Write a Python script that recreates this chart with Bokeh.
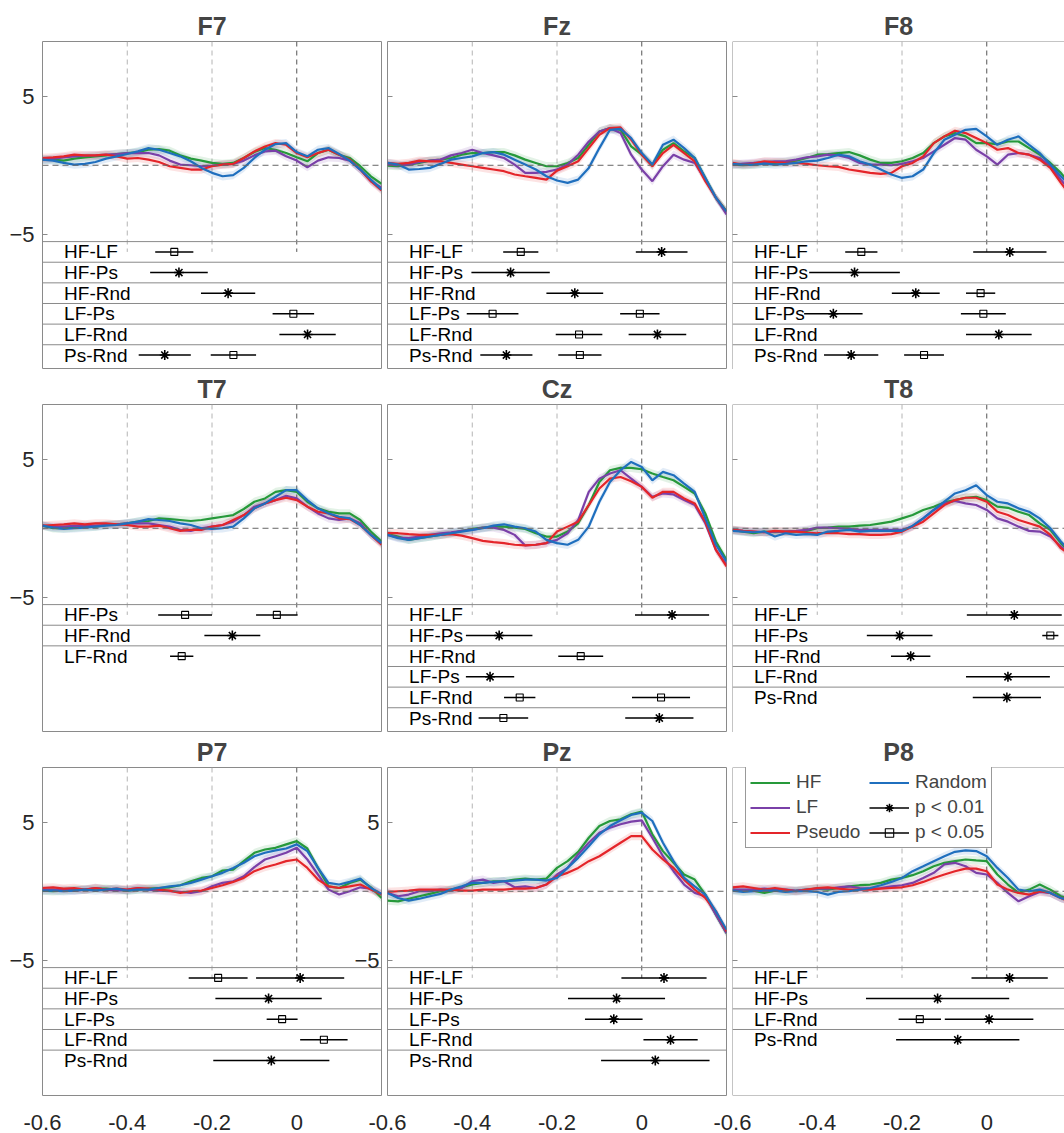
import numpy as np
from bokeh.plotting import figure
from bokeh.models import Range1d, FixedTicker, Span, Legend, LegendItem, ColumnDataSource
from bokeh.layouts import row, column
from bokeh.embed import file_html
from bokeh.resources import INLINE
from bokeh.core.properties import value

FONT = "Liberation Sans"

TIME = [-0.6, -0.575, -0.55, -0.525, -0.5, -0.475, -0.45, -0.425, -0.4, -0.375, -0.35,
        -0.325, -0.3, -0.275, -0.25, -0.225, -0.2, -0.175, -0.15, -0.125, -0.1, -0.075,
        -0.05, -0.025, 0.0, 0.025, 0.05, 0.075, 0.1, 0.125, 0.15, 0.175, 0.2]

# ---------------- waveforms (microvolts) ----------------
F7_HF = [0.41,0.41,0.34,0.48,0.58,0.65,0.72,0.82,0.89,0.96,1.13,1.18,1.06,0.72,0.48,0.34,0.17,0.1,0.17,0.53,0.96,1.25,1.13,0.89,0.58,0.29,0.89,1.13,0.77,0.53,-0.07,-0.8,-1.35]
F7_LF = [0.41,0.48,0.58,0.65,0.7,0.72,0.77,0.82,0.89,0.89,0.89,0.72,0.34,0.05,0,-0.07,-0.02,0.05,0.1,0.34,0.72,1.01,1.06,0.65,0.34,-0.14,0.34,0.58,0.53,0.34,-0.31,-1.16,-1.64]
F7_PS = [0.53,0.58,0.65,0.77,0.72,0.72,0.77,0.65,0.48,0.53,0.41,0.24,-0.07,-0.19,-0.31,-0.31,-0.07,0.05,0.1,0.53,1.01,1.37,1.61,1.49,0.89,0.58,0.89,1.13,0.77,0.41,-0.31,-1.16,-1.83]
F7_RND = [0.41,0.34,0.17,0.05,0.1,0.24,0.48,0.65,0.82,1.01,1.25,1.13,0.89,0.65,0.29,-0.19,-0.55,-0.8,-0.72,-0.19,0.53,1.13,1.54,1.61,0.96,0.65,1.13,1.25,0.82,0.34,-0.31,-1.04,-1.76]

FZ_HF = [-0.02,-0.07,0.05,0.17,0.34,0.41,0.53,0.77,0.89,0.89,0.96,0.96,0.72,0.41,0.17,-0.07,-0.07,0.17,0.53,1.49,2.46,2.7,2.58,1.37,0.77,0.05,1.13,1.61,1.01,0.53,-0.92,-2.36,-3.33]
FZ_LF = [0.05,0,0.05,0.24,0.34,0.41,0.72,0.89,1.13,0.89,0.72,0.53,0.05,-0.55,-0.55,-0.48,-0.31,0.05,0.77,1.73,2.46,2.7,2.34,0.77,-0.31,-1.16,-0.07,0.77,0.41,0.17,-1.04,-2.36,-3.57]
FZ_PS = [0.17,0.1,0.17,0.34,0.29,0.29,0.17,0.05,-0.07,-0.19,-0.31,-0.43,-0.67,-0.8,-0.92,-1.04,-0.39,-0.07,0.29,1.25,2.22,2.7,2.75,1.86,0.77,-0.07,0.89,1.49,0.89,0.29,-1.16,-2.36,-3.37]
FZ_RND = [0.17,0.05,-0.31,-0.27,-0.19,0.1,0.41,0.53,0.65,0.89,0.96,0.77,0.41,0.05,-0.31,-0.8,-1.11,-1.28,-1.04,-0.19,1.25,2.58,2.65,1.98,0.89,0.05,1.49,1.86,1.25,0.53,-0.92,-2.36,-3.37]

F8_HF = [0.05,0,0.05,0.12,0.17,0.24,0.34,0.53,0.77,0.82,0.89,0.96,0.72,0.41,0.17,0.17,0.29,0.53,0.89,1.61,2.1,2.34,2.1,1.61,1.61,1.54,1.73,1.73,1.25,0.77,0.17,-0.55,-1.5]
F8_LF = [0.05,0.12,0.17,0.24,0.29,0.29,0.41,0.58,0.65,0.77,0.72,0.53,0.17,0.05,0.05,0,0.1,0.29,0.53,1.01,1.49,1.98,1.86,1.13,0.65,0.05,0.77,0.89,0.77,0.53,-0.07,-1.04,-2.0]
F8_PS = [0.17,0.05,0.12,0.29,0.22,0.17,0.17,0.1,0,-0.07,-0.12,-0.31,-0.43,-0.55,-0.63,-0.55,-0.07,0.17,0.65,1.61,2.1,2.51,2.34,1.98,1.61,1.13,1.25,0.89,0.77,0.41,-0.19,-1.28,-2.3]
F8_RND = [0.1,0.05,0.05,0.12,0.05,0.1,0.17,0.29,0.34,0.53,0.77,0.65,0.29,0.05,-0.31,-0.67,-0.92,-0.8,-0.31,0.89,1.86,2.22,2.58,2.65,2.1,1.49,1.86,2.1,1.49,0.89,0.05,-0.8,-1.6]

T7_HF = [0.19,0,0,0.05,0.12,0.12,0.24,0.29,0.36,0.48,0.53,0.72,0.67,0.6,0.53,0.6,0.72,0.84,0.96,1.4,1.93,2.17,2.65,2.77,2.65,1.93,1.45,1.2,1.08,1.08,0.6,-0.24,-0.96]
T7_LF = [0.19,0.12,0.12,0.17,0.19,0.19,0.24,0.29,0.36,0.36,0.36,0.24,0.12,-0.12,-0.19,0,0.12,0.24,0.48,0.96,1.57,1.81,2.05,2.36,2.17,1.57,1.08,0.72,0.6,0.72,0.36,-0.48,-1.08]
T7_PS = [0.19,0.24,0.29,0.36,0.29,0.36,0.36,0.29,0.24,0.12,0.12,0.19,0,-0.19,-0.12,-0.12,0.12,0.24,0.6,0.96,1.45,1.81,2.05,2.22,2.05,1.57,1.2,1.08,0.72,0.67,0.24,-0.48,-1.2]
T7_RND = [0.19,0.05,-0.05,0,0.05,0.12,0.19,0.24,0.36,0.48,0.67,0.6,0.53,0.36,0.24,0,-0.05,0,0.12,0.72,1.45,1.81,2.29,2.77,2.77,2.05,1.45,1.08,0.84,0.72,0.24,-0.48,-1.08]

CZ_HF = [-0.43,-0.6,-0.84,-0.72,-0.6,-0.48,-0.36,-0.19,-0.05,0.05,0.12,0.12,0.05,-0.05,-0.36,-0.6,-0.6,-0.24,0.36,1.69,3.37,4.22,4.39,4.39,4.29,3.98,3.73,3.49,3.01,2.53,1.08,-0.96,-2.29]
CZ_LF = [-0.48,-0.67,-0.72,-0.6,-0.48,-0.36,-0.29,-0.19,-0.12,0.05,0.05,-0.12,-0.48,-1.25,-1.2,-1.08,-0.84,-0.36,0.6,2.65,3.61,3.98,4.22,3.61,3.01,2.29,2.53,2.46,2.05,1.69,0.36,-1.57,-2.65]
CZ_PS = [-0.36,-0.36,-0.43,-0.48,-0.48,-0.48,-0.43,-0.53,-0.72,-0.92,-1.01,-1.08,-1.2,-1.25,-1.2,-1.08,-0.24,0.12,0.48,1.69,2.89,3.61,3.73,3.42,3.01,2.22,2.65,2.65,2.17,1.81,0.48,-1.57,-2.77]
CZ_RND = [-0.48,-0.72,-0.84,-0.72,-0.6,-0.48,-0.36,-0.24,-0.12,0,0.19,0.29,0.12,0,-0.24,-0.84,-1.08,-1.2,-0.84,0.12,1.93,3.37,4.22,4.82,4.46,3.49,4.1,3.86,3.25,2.65,0.72,-1.2,-2.41]

T8_HF = [-0.12,-0.24,-0.36,-0.24,-0.29,-0.24,-0.24,-0.19,0,0.05,0.12,0.12,0.19,0.24,0.36,0.48,0.72,0.96,1.33,1.57,1.88,2.05,2.22,2.29,2.05,1.57,1.49,1.2,0.96,0.36,-0.12,-1.08,-1.9]
T8_LF = [-0.12,-0.19,-0.24,-0.29,-0.24,-0.24,-0.19,-0.12,0.05,0.05,0,-0.05,-0.12,-0.12,-0.12,-0.12,-0.12,0.12,0.72,1.33,1.81,1.98,1.81,1.69,1.33,0.72,0.48,0.12,-0.19,-0.24,-0.6,-1.33,-2.0]
T8_PS = [-0.12,-0.19,-0.24,-0.29,-0.19,-0.24,-0.24,-0.31,-0.36,-0.36,-0.36,-0.43,-0.43,-0.48,-0.48,-0.43,-0.24,0.12,0.48,1.08,1.69,2.05,2.22,2.22,1.93,1.2,0.96,0.6,0.36,0.12,-0.48,-1.45,-2.0]
T8_RND = [-0.19,-0.24,-0.29,-0.24,-0.6,-0.36,-0.48,-0.43,-0.48,-0.24,-0.19,-0.12,-0.24,-0.19,-0.19,-0.19,-0.19,0.19,0.72,1.33,1.93,2.53,2.77,3.13,2.41,1.93,1.81,1.45,1.2,0.72,0,-0.96,-1.8]

P7_HF = [0.05,0,0.05,0.12,0.12,0.19,0.19,0.12,0.05,0.12,0.19,0.24,0.29,0.44,0.73,0.97,1.09,1.51,1.58,2.19,2.8,3.04,3.16,3.41,3.65,3.11,1.7,0.36,0.24,0.61,0.85,0.29,-0.49]
P7_LF = [0.12,0.12,0.12,0.05,0.12,0.24,0.12,0.05,0.12,0.24,0.12,0.05,0,-0.05,-0.12,0,0.36,0.61,0.73,1.09,1.75,2.31,2.55,2.8,3.16,2.31,1.22,0.12,-0.24,0,0.29,0.19,-0.19]
P7_PS = [0.24,0.29,0.19,0.24,0.12,0.24,0.12,0.19,0.12,0.24,0.19,0.12,0.05,-0.12,0,0.05,0.24,0.44,0.68,0.97,1.46,1.75,1.95,2.19,2.31,1.7,0.85,0.36,0.24,0.36,0.49,0.12,-0.24]
P7_RND = [0.05,0.05,0,0.05,0.12,0.05,0.12,0.19,0.05,0.12,0.12,0.24,0.36,0.44,0.61,0.85,1.09,1.34,1.7,2.07,2.55,2.8,2.97,3.11,3.41,2.92,1.7,0.61,0.49,0.68,0.92,0.24,-0.19]

PZ_HF = [-0.68,-0.73,-0.54,-0.36,-0.19,0,0.12,0.29,0.49,0.61,0.73,0.73,0.85,0.92,0.85,0.92,1.7,2.19,2.87,3.89,4.74,5.11,5.23,5.6,5.79,4.14,2.92,2.07,1.22,0.85,-0.24,-1.7,-3.04]
PZ_LF = [-0.12,-0.36,-0.24,0,0,0.12,0.05,0.24,0.73,0.85,0.61,0.73,0.29,0.36,0.24,0.49,1.22,1.7,2.68,3.53,4.26,4.62,4.87,5.06,5.16,3.89,2.55,1.46,0.49,-0.12,-0.36,-1.7,-3.04]
PZ_PS = [-0.05,0,0.05,0.12,0.12,0.12,0.12,0.05,0.05,0.12,0.12,0.12,0.19,0.19,0.24,0.49,1.09,1.34,1.7,2.19,2.55,3.04,3.53,4.01,4.01,3.04,2.31,1.7,0.85,0.12,-0.49,-1.46,-2.92]
PZ_RND = [-0.12,-0.49,-0.68,-0.54,-0.36,-0.19,0.12,0.36,0.61,0.61,0.68,0.73,0.78,0.85,0.85,0.78,0.97,1.7,2.43,3.28,4.14,4.74,5.16,5.55,5.72,5.11,3.53,2.19,0.97,0.36,-0.24,-1.46,-2.8]

P8_HF = [0.12,0,0.05,-0.12,0.05,0,0.05,0.12,0.19,0.12,0.24,0.36,0.44,0.49,0.61,0.85,0.97,1.17,1.46,1.82,2.07,2.19,2.31,2.24,2.19,1.22,0.49,-0.12,0.12,0.49,0.12,-0.36,-0.6]
P8_LF = [0.12,0.12,0.12,0.19,0.12,0.12,0.05,0.12,0.19,0.19,0.29,0.36,0.24,0.19,0.24,0.36,0.44,0.61,0.97,1.34,1.95,2.07,1.82,1.34,1.22,0.61,-0.12,-0.73,-0.36,-0.05,-0.12,-0.49,-0.7]
P8_PS = [0.29,0.36,0.24,0.12,0.24,0.12,0,0.12,0.24,0.29,0.19,0.12,0.12,0.12,0.19,0.24,0.29,0.44,0.68,0.97,1.22,1.46,1.65,1.65,1.46,0.49,0.12,-0.12,-0.24,0,-0.12,-0.49,-0.8]
P8_RND = [0.05,-0.05,0,0.05,0.05,-0.05,0,0,-0.05,-0.24,-0.05,0,0.12,0.24,0.44,0.68,0.97,1.46,1.82,2.19,2.55,2.87,2.97,2.92,2.55,1.7,0.97,0.12,0,0.12,-0.12,-0.49,-0.7]

# ---------------- significance rows: (row, start, end, kind) a = p<0.01, s = p<0.05 ----------------
ROWS6 = ["HF-LF", "HF-Ps", "HF-Rnd", "LF-Ps", "LF-Rnd", "Ps-Rnd"]
F7_ROWS = ROWS6
F7_SIG = [(0, -0.334, -0.244, "s"), (1, -0.346, -0.210, "a"), (2, -0.226, -0.098, "a"),
          (3, -0.057, 0.041, "s"), (4, -0.041, 0.092, "a"), (5, -0.373, -0.250, "a"), (5, -0.203, -0.096, "s")]
FZ_ROWS = ROWS6
FZ_SIG = [(0, -0.327, -0.244, "s"), (0, -0.014, 0.108, "a"), (1, -0.402, -0.217, "a"), (2, -0.225, -0.091, "a"),
          (3, -0.413, -0.291, "s"), (3, -0.051, 0.042, "s"), (4, -0.203, -0.093, "s"), (4, -0.031, 0.105, "a"),
          (5, -0.381, -0.258, "a"), (5, -0.197, -0.095, "s")]
F8_ROWS = ROWS6
F8_SIG = [(0, -0.334, -0.258, "s"), (0, -0.032, 0.141, "a"), (1, -0.419, -0.205, "a"), (2, -0.224, -0.111, "a"),
          (2, -0.049, 0.020, "s"), (3, -0.431, -0.293, "a"), (3, -0.061, 0.045, "s"), (4, -0.049, 0.106, "a"),
          (5, -0.384, -0.256, "a"), (5, -0.195, -0.101, "s")]
T7_ROWS = ["HF-Ps", "HF-Rnd", "LF-Rnd"]
T7_SIG = [(0, -0.327, -0.200, "s"), (0, -0.096, 0.002, "s"), (1, -0.218, -0.086, "a"), (2, -0.299, -0.244, "s")]
CZ_ROWS = ROWS6
CZ_SIG = [(0, -0.016, 0.159, "a"), (1, -0.415, -0.258, "a"), (2, -0.197, -0.091, "s"), (3, -0.415, -0.301, "a"),
          (4, -0.325, -0.251, "s"), (4, -0.023, 0.114, "s"), (5, -0.385, -0.268, "s"), (5, -0.039, 0.122, "a")]
T8_ROWS = ["HF-LF", "HF-Ps", "HF-Rnd", "LF-Rnd", "Ps-Rnd"]
T8_SIG = [(0, -0.047, 0.177, "a"), (1, -0.283, -0.128, "a"), (1, 0.131, 0.169, "s"), (2, -0.226, -0.133, "a"),
          (3, -0.049, 0.149, "a"), (4, -0.033, 0.128, "a")]
P7_ROWS = ["HF-LF", "HF-Ps", "LF-Ps", "LF-Rnd", "Ps-Rnd"]
P7_SIG = [(0, -0.255, -0.116, "s"), (0, -0.096, 0.112, "a"), (1, -0.192, 0.059, "a"), (2, -0.071, 0.002, "s"),
          (3, 0.008, 0.120, "s"), (4, -0.197, 0.077, "a")]
PZ_ROWS = ["HF-LF", "HF-Ps", "LF-Ps", "LF-Rnd", "Ps-Rnd"]
PZ_SIG = [(0, -0.048, 0.153, "a"), (1, -0.174, 0.055, "a"), (2, -0.134, 0.002, "a"), (3, 0.004, 0.132, "a"),
          (4, -0.096, 0.160, "a")]
P8_ROWS = ["HF-LF", "HF-Ps", "LF-Rnd", "Ps-Rnd"]
P8_SIG = [(0, -0.036, 0.144, "a"), (1, -0.285, 0.053, "a"), (2, -0.208, -0.108, "s"), (2, -0.099, 0.110, "a"),
          (3, -0.214, 0.077, "a")]

NAMES = ["F7", "Fz", "F8", "T7", "Cz", "T8", "P7", "Pz", "P8"]
HF = [F7_HF, FZ_HF, F8_HF, T7_HF, CZ_HF, T8_HF, P7_HF, PZ_HF, P8_HF]
LF = [F7_LF, FZ_LF, F8_LF, T7_LF, CZ_LF, T8_LF, P7_LF, PZ_LF, P8_LF]
PS = [F7_PS, FZ_PS, F8_PS, T7_PS, CZ_PS, T8_PS, P7_PS, PZ_PS, P8_PS]
RND = [F7_RND, FZ_RND, F8_RND, T7_RND, CZ_RND, T8_RND, P7_RND, PZ_RND, P8_RND]
ROWS = [F7_ROWS, FZ_ROWS, F8_ROWS, T7_ROWS, CZ_ROWS, T8_ROWS, P7_ROWS, PZ_ROWS, P8_ROWS]
SIG = [F7_SIG, FZ_SIG, F8_SIG, T7_SIG, CZ_SIG, T8_SIG, P7_SIG, PZ_SIG, P8_SIG]

Y_TICKS = [-5, 5]
X_TICKS = [-0.6, -0.4, -0.2, 0.0]
X_TICK_LABELS = ["-0.6", "-0.4", "-0.2", "0"]
VLINES = [-0.4, -0.2, 0.0]

# ---------------- style ----------------
C_HF, C_LF, C_PS, C_RND = "#26993a", "#7a40a8", "#e4252a", "#1f6fbe"
GRAY = "#8a8a8a"
Y_TOP, Y_WAVE_BOTTOM, ROW_H, Y_BOTTOM = 9.0, -5.55, 1.5, -14.85
BAND = 0.3
LABEL_X = -0.549
FRAME_H = 328
OVERLAP = 40   # later columns slide over the previous canvas (their border is transparent)


def make_panel(i):
    r, c = divmod(i, 3)
    frame_w = 339 if c < 2 else 332
    x_end = 0.2 if c < 2 else -0.6 + 0.8 * 332 / 339
    kw = {}
    if c > 0:
        kw["margin"] = (0, 0, 0, -OVERLAP)
    p = figure(frame_width=frame_w, frame_height=FRAME_H,
               x_range=Range1d(-0.6, x_end), y_range=Range1d(Y_BOTTOM, Y_TOP),
               output_backend="svg", toolbar_location=None,
               min_border_left=42 if c == 0 else 3 + OVERLAP,
               min_border_right=3 if c < 2 else 0,
               min_border_top=41 if r == 0 else 35,
               min_border_bottom=38 if r == 2 else 0,
               background_fill_color="white", border_fill_color="white",
               border_fill_alpha=1.0 if c == 0 else 0.0, **kw)
    p.title.text = NAMES[i]
    p.title.align = "center"
    p.title.text_font = FONT
    p.title.text_font_size = "25px"
    p.title.text_font_style = "bold"
    p.title.standoff = 4
    p.xgrid.visible = False
    p.ygrid.visible = False

    if c < 2:
        p.outline_line_color = GRAY
    else:
        p.outline_line_color = None
        for loc, dim in ((-0.6, "height"), (Y_TOP, "width"), (Y_BOTTOM, "width")):
            p.add_layout(Span(location=loc, dimension=dim, line_color=GRAY, line_width=1))

    # y axis (labels only on the left column and on Pz, as in the original)
    yax = p.yaxis[0]
    yax.ticker = FixedTicker(ticks=Y_TICKS)
    yax.major_label_text_font = FONT
    yax.major_label_text_font_size = "22px"
    yax.major_label_text_color = "#262626"
    yax.major_tick_in = 5
    yax.major_tick_out = 0
    yax.major_tick_line_color = GRAY
    yax.minor_tick_line_color = None
    yax.axis_line_color = None
    if c == 0 or NAMES[i] == "Pz":
        yax.major_label_standoff = 8
    else:
        yax.major_label_overrides = {5: "", -5: ""}
        yax.major_label_standoff = 0

    # x axis: tick labels only on the bottom row
    xax = p.xaxis[0]
    if r < 2:
        xax.visible = False
    else:
        xax.ticker = FixedTicker(ticks=X_TICKS)
        xax.major_label_overrides = dict(zip(X_TICKS, X_TICK_LABELS))
        xax.major_label_text_font = FONT
        xax.major_label_text_font_size = "22px"
        xax.major_label_text_color = "#262626"
        xax.major_tick_in = 0
        xax.major_tick_out = 0
        xax.minor_tick_line_color = None
        xax.axis_line_color = None
        xax.major_label_standoff = 19

    # reference lines
    p.segment(x0=VLINES, y0=[Y_TOP] * 3, x1=VLINES, y1=[-6.3] * 3,
              line_color=["#b4b4b4", "#b4b4b4", "#555555"], line_width=1, line_dash="5 4")
    p.add_layout(Span(location=0, dimension="width", line_color="#666666", line_width=1, line_dash="6 4"))

    # waveforms
    rends = {}
    t = TIME
    series = (("HF", HF[i], C_HF), ("LF", LF[i], C_LF), ("Pseudo", PS[i], C_PS), ("Random", RND[i], C_RND))
    for key, data, col in series:
        y = np.array(data, dtype=float)
        p.varea(x=t[:len(y)], y1=y - BAND, y2=y + BAND, fill_color=col, fill_alpha=0.13)
    for key, data, col in series:
        y = list(data)
        rends[key] = p.line(x=t[:len(y)], y=y, line_color=col, line_width=2.2)

    # significance rows
    rows = ROWS[i]
    centers = [Y_WAVE_BOTTOM - (k + 0.5) * ROW_H for k in range(len(rows))]
    for k in range(len(rows)):
        p.add_layout(Span(location=Y_WAVE_BOTTOM - k * ROW_H, dimension="width", line_color=GRAY, line_width=1))
    p.text(x=[LABEL_X] * len(rows), y=centers, text=rows, text_font=value(FONT),
           text_font_size=value("19px"), text_align="left", text_baseline="middle", text_color="black")
    for kind, marker, size, lw, fill in (("a", "asterisk", 10, 1.6, "black"), ("s", "square", 7, 1.1, None)):
        items = [s for s in SIG[i] if s[3] == kind]
        src = ColumnDataSource(dict(
            x0=[s[1] for s in items], x1=[s[2] for s in items],
            y=[centers[s[0]] for s in items], xm=[(s[1] + s[2]) / 2 for s in items]))
        seg = p.segment(x0="x0", y0="y", x1="x1", y1="y", source=src, line_color="black", line_width=1.5)
        sc = p.scatter(x="xm", y="y", source=src, marker=marker, size=size, line_color="black",
                       line_width=lw, fill_color=fill)
        rends[kind] = (seg, sc)
    return p, rends


figs = []
all_rends = []
for i in range(9):
    f, rd = make_panel(i)
    figs.append(f)
    all_rends.append(rd)

# legend in P8
rd = all_rends[8]
legend = Legend(items=[
    LegendItem(label="HF", renderers=[rd["HF"]]),
    LegendItem(label="LF", renderers=[rd["LF"]]),
    LegendItem(label="Pseudo", renderers=[rd["Pseudo"]]),
    LegendItem(label="Random", renderers=[rd["Random"]]),
    LegendItem(label="p < 0.01", renderers=list(rd["a"])),
    LegendItem(label="p < 0.05", renderers=list(rd["s"])),
], location=(13, FRAME_H - 4 - 77), nrows=3, orientation="vertical", margin=0,
    label_text_font=FONT, label_text_font_size="19px", glyph_width=40, glyph_height=21,
    label_height=21, label_width=70, label_standoff=6, spacing=3, padding=4,
    border_line_color="#333333", border_line_width=1, background_fill_color="white", background_fill_alpha=1)
figs[8].add_layout(legend)

# the bottom row's label strip runs a few pixels past the window; keep the page itself at 1133 px
layout = column(row(*figs[0:3]), row(*figs[3:6]), row(*figs[6:9]),
                height=1133, sizing_mode="fixed", styles={"overflow": "hidden"})
open("out.html", "w").write(file_html(layout, INLINE))
